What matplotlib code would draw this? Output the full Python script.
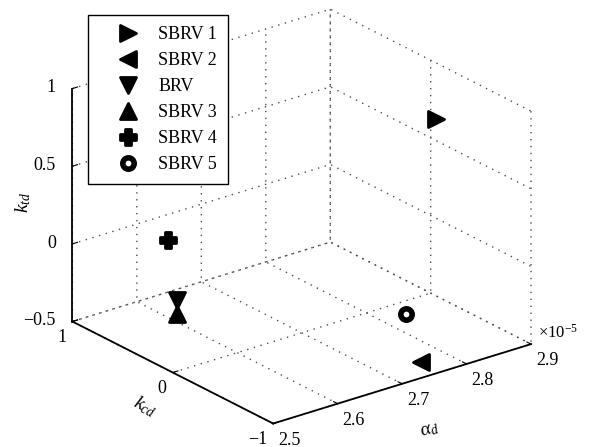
import matplotlib
matplotlib.use('Agg')
import matplotlib.pyplot as plt
from matplotlib.markers import MarkerStyle
from matplotlib.ticker import FuncFormatter
import numpy as np

# ---- data ----
series = ['SBRV 1', 'SBRV 2', 'BRV', 'SBRV 3', 'SBRV 4', 'SBRV 5']
alpha_d = [2.90e-5, 2.73e-5, 2.60e-5, 2.60e-5, 2.648e-5, 2.706e-5]
k_cd = [-0.05, -1.0, 0.6, 0.6, 1.0, -1.0]
k_td = [0.64, -0.40, -0.36, -0.45, -0.167, -0.06]
markers = ['>', '<', 'v', '^', 'P', 'o']

x_ticks = [2.5e-5, 2.6e-5, 2.7e-5, 2.8e-5, 2.9e-5]
y_ticks = [-1, 0, 1]
z_ticks = [-0.5, 0, 0.5, 1]

plt.rcParams['font.family'] = ['Liberation Serif', 'DejaVu Serif']
plt.rcParams['mathtext.fontset'] = 'custom'
plt.rcParams['mathtext.rm'] = 'Liberation Serif'
plt.rcParams['mathtext.it'] = 'Liberation Serif:italic'
plt.rcParams['axes.unicode_minus'] = True

GRID_LS = (0, (1.0, 4.0))

fig = plt.figure(figsize=(5.89, 4.47), dpi=100)
ax = fig.add_axes([0.002, 0.0025, 1.0, 1.0], projection='3d', proj_type='ortho')
ax.view_init(elev=23.3, azim=-127.9)
ax.set_box_aspect((1, 1, 0.776), zoom=1.145)

for xv, yv, zv, m, lab in zip(alpha_d, k_cd, k_td, markers, series):
    if m == 'o':
        ax.plot([xv], [yv], [zv], linestyle='none',
                marker=MarkerStyle('o', joinstyle='round'), markersize=8.2,
                markerfacecolor='white', markeredgecolor='black',
                markeredgewidth=4.0, label=lab)
    else:
        ax.plot([xv], [yv], [zv], linestyle='none',
                marker=MarkerStyle(m, joinstyle='round'), markersize=11,
                markerfacecolor='black', markeredgecolor='black',
                markeredgewidth=2.0, label=lab)

ax.set_xlim(2.5e-5, 2.9e-5)
ax.set_ylim(-1, 1)
ax.set_zlim(-0.5, 1)
ax.set_xticks(x_ticks)
ax.set_yticks(y_ticks)
ax.set_zticks(z_ticks)
ax.xaxis.set_major_formatter(FuncFormatter(lambda v, p: f'{v / 1e-5:.1f}'))
ax.yaxis.set_major_formatter(FuncFormatter(lambda v, p: f'{v:g}'.replace('-', '\u2212')))
ax.zaxis.set_major_formatter(FuncFormatter(lambda v, p: f'{v:g}'.replace('-', '\u2212')))

for axis in (ax.xaxis, ax.yaxis, ax.zaxis):
    axis.set_pane_color((1, 1, 1, 0))
    axis.pane.set_edgecolor((1, 1, 1, 0))
    axis.line.set_color('black')
    axis.line.set_linewidth(1.3)
    axis._axinfo['grid'].update(color='0.3', linestyle=GRID_LS, linewidth=1.0)
    axis._axinfo['tick']['inward_factor'] = 0.0
    axis._axinfo['tick']['outward_factor'] = 0.25

ax.tick_params(labelsize=13)
ax.xaxis.set_tick_params(pad=-4)
ax.yaxis.set_tick_params(pad=-4)
ax.zaxis.set_tick_params(pad=-2)
plt.setp(ax.get_xticklabels(), ha='left')
plt.setp(ax.get_yticklabels(), ha='right')
plt.setp(ax.get_zticklabels(), va='center', ha='right')
ax.set_xlabel(r'$\alpha_d$', fontsize=14, labelpad=2)
ax.set_ylabel(r'$k_{cd}$', fontsize=14, labelpad=-3)
ax.set_zlabel(r'$k_{td}$', fontsize=14, labelpad=-3)

ax.text2D(0.913, 0.255, r'$\times10^{-5}$', transform=fig.transFigure,
          fontsize=12, ha='left', va='center')

leg = ax.legend(loc='upper left', bbox_to_anchor=(0.149, 0.966),
                bbox_transform=fig.transFigure, fancybox=False, framealpha=1,
                edgecolor='black', fontsize=13, handlelength=3.3,
                handletextpad=0.0, borderpad=0.6, labelspacing=0.5,
                borderaxespad=0.0)
leg.get_frame().set_linewidth(1.0)

fig.savefig('out.png', dpi=100)
